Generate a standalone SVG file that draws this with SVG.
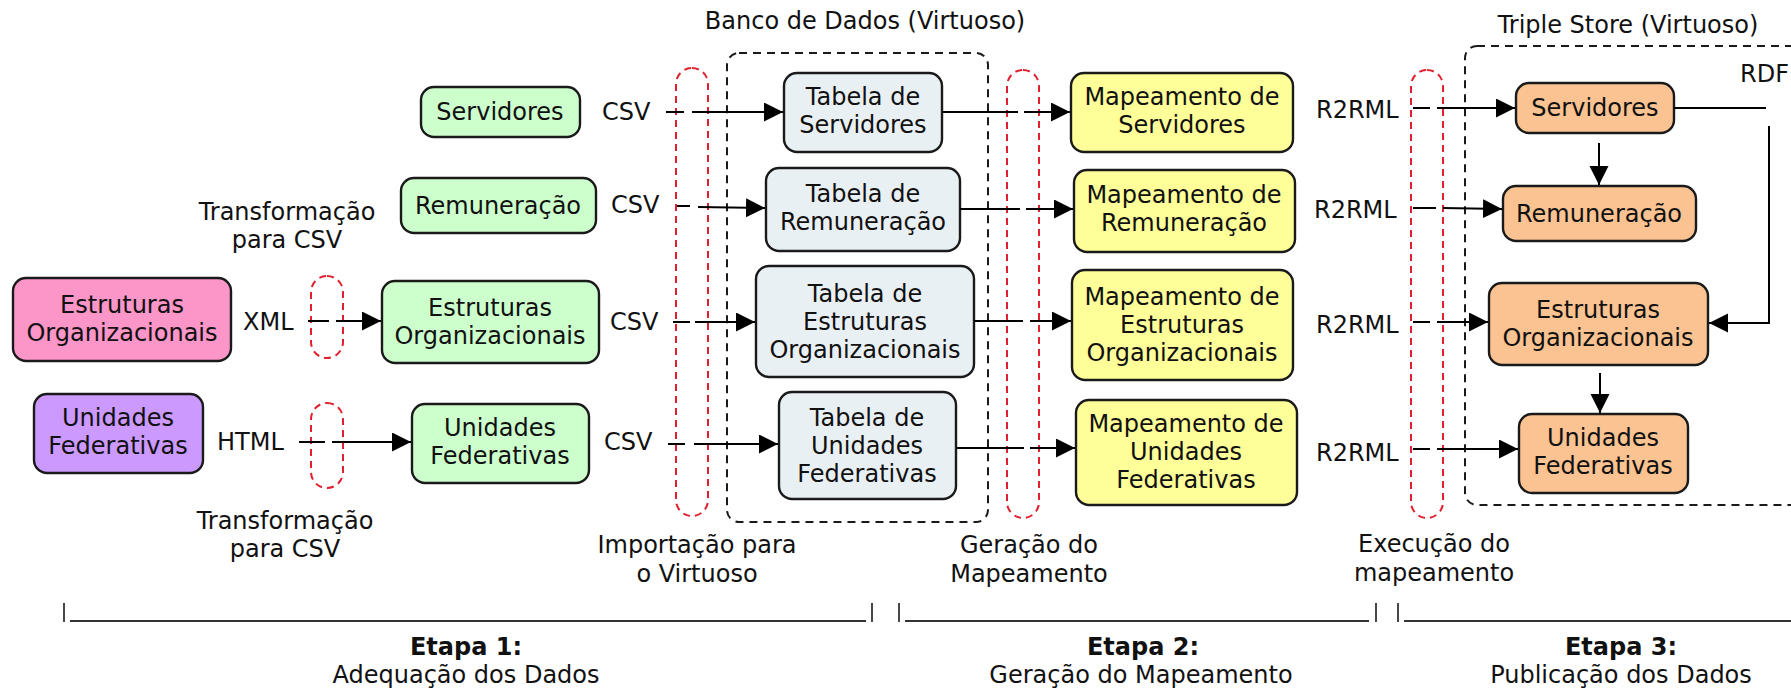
<svg xmlns="http://www.w3.org/2000/svg" width="1791" height="691" viewBox="0 0 1791 691">
<defs>
<marker id="ah" markerUnits="userSpaceOnUse" markerWidth="20" markerHeight="20" refX="19" refY="9.5" orient="auto">
<path d="M0,0 L19,9.5 L0,19 Z" fill="#000"/>
</marker>
<style>
text{font-family:"DejaVu Sans",Verdana,sans-serif;font-size:24px;fill:#111;text-anchor:middle}
.b{font-weight:bold}
.s{text-anchor:start}
.box{stroke:#1a1a1a;stroke-width:2.4}
.green{fill:#ccffcc}
.pink{fill:#fc95c8}
.purple{fill:#cc99ff}
.tab{fill:#e9f0f4}
.yel{fill:#ffff99}
.org{fill:#fac391}
.pill{fill:none;stroke:#e0202e;stroke-width:2;stroke-dasharray:7,5}
.grp{fill:none;stroke:#1a1a1a;stroke-width:2;stroke-dasharray:8,6}
.ln{fill:none;stroke:#000;stroke-width:2}
.arr{fill:none;stroke:#000;stroke-width:2;marker-end:url(#ah)}
.br{fill:none;stroke:#333;stroke-width:1.8}
</style>
</defs>

<!-- containers -->
<g id="group-banco">
<rect class="grp" x="727" y="53" width="261" height="469" rx="12"/>
<text x="865" y="29">Banco de Dados (Virtuoso)</text>
</g>
<g id="group-triplestore">
<rect class="grp" x="1465" y="46" width="360" height="459" rx="12"/>
<text x="1628" y="33">Triple Store (Virtuoso)</text>
</g>

<!-- red process pills -->
<g id="pill-transf1"><rect class="pill" x="311" y="276" width="32" height="82" rx="16"/></g>
<g id="pill-transf2"><rect class="pill" x="311" y="403" width="32" height="85" rx="16"/></g>
<g id="pill-import"><rect class="pill" x="676" y="68" width="32" height="448" rx="16"/></g>
<g id="pill-geracao"><rect class="pill" x="1007" y="70" width="32" height="448" rx="16"/></g>
<g id="pill-execucao"><rect class="pill" x="1411" y="70" width="32" height="448" rx="16"/></g>

<!-- source nodes -->
<g id="src-estruturas">
<rect class="box pink" x="13" y="278" width="218" height="83" rx="13"/>
<text x="122" y="313">Estruturas</text><text x="122" y="341">Organizacionais</text>
</g>
<g id="src-unidades">
<rect class="box purple" x="34" y="394" width="169" height="79" rx="13"/>
<text x="118" y="426">Unidades</text><text x="118" y="454">Federativas</text>
</g>

<!-- CSV nodes -->
<g id="csv-servidores">
<rect class="box green" x="421" y="87" width="159" height="50" rx="13"/>
<text x="500" y="120">Servidores</text>
</g>
<g id="csv-remuneracao">
<rect class="box green" x="401" y="178" width="195" height="55" rx="13"/>
<text x="498" y="214">Remuneração</text>
</g>
<g id="csv-estruturas">
<rect class="box green" x="382" y="281" width="217" height="82" rx="13"/>
<text x="490" y="316">Estruturas</text><text x="490" y="344">Organizacionais</text>
</g>
<g id="csv-unidades">
<rect class="box green" x="412" y="404" width="177" height="79" rx="13"/>
<text x="500" y="436">Unidades</text><text x="500" y="464">Federativas</text>
</g>

<!-- table nodes -->
<g id="tab-servidores">
<rect class="box tab" x="784" y="73" width="158" height="79" rx="13"/>
<text x="863" y="105">Tabela de</text><text x="863" y="133">Servidores</text>
</g>
<g id="tab-remuneracao">
<rect class="box tab" x="766" y="168" width="194" height="83" rx="13"/>
<text x="863" y="202">Tabela de</text><text x="863" y="230">Remuneração</text>
</g>
<g id="tab-estruturas">
<rect class="box tab" x="756" y="266" width="218" height="111" rx="13"/>
<text x="865" y="302">Tabela de</text><text x="865" y="330">Estruturas</text><text x="865" y="358">Organizacionais</text>
</g>
<g id="tab-unidades">
<rect class="box tab" x="779" y="392" width="177" height="107" rx="13"/>
<text x="867" y="426">Tabela de</text><text x="867" y="454">Unidades</text><text x="867" y="482">Federativas</text>
</g>

<!-- mapping nodes -->
<g id="map-servidores">
<rect class="box yel" x="1071" y="73" width="222" height="79" rx="13"/>
<text x="1182" y="105">Mapeamento de</text><text x="1182" y="133">Servidores</text>
</g>
<g id="map-remuneracao">
<rect class="box yel" x="1074" y="170" width="221" height="82" rx="13"/>
<text x="1184" y="203">Mapeamento de</text><text x="1184" y="231">Remuneração</text>
</g>
<g id="map-estruturas">
<rect class="box yel" x="1072" y="270" width="221" height="110" rx="13"/>
<text x="1182" y="305">Mapeamento de</text><text x="1182" y="333">Estruturas</text><text x="1182" y="361">Organizacionais</text>
</g>
<g id="map-unidades">
<rect class="box yel" x="1076" y="400" width="221" height="105" rx="13"/>
<text x="1186" y="432">Mapeamento de</text><text x="1186" y="460">Unidades</text><text x="1186" y="488">Federativas</text>
</g>

<!-- RDF nodes -->
<g id="rdf-servidores">
<rect class="box org" x="1516" y="83" width="158" height="50" rx="13"/>
<text x="1595" y="116">Servidores</text>
</g>
<g id="rdf-remuneracao">
<rect class="box org" x="1503" y="186" width="193" height="55" rx="13"/>
<text x="1599" y="222">Remuneração</text>
</g>
<g id="rdf-estruturas">
<rect class="box org" x="1489" y="283" width="219" height="82" rx="13"/>
<text x="1598" y="318">Estruturas</text><text x="1598" y="346">Organizacionais</text>
</g>
<g id="rdf-unidades">
<rect class="box org" x="1519" y="414" width="169" height="79" rx="13"/>
<text x="1603" y="446">Unidades</text><text x="1603" y="474">Federativas</text>
</g>

<!-- connectors -->
<g id="connectors">
<!-- XML / HTML -->
<line class="ln" x1="308" y1="321" x2="329" y2="321"/>
<line class="arr" x1="336" y1="321" x2="381" y2="321"/>
<line class="ln" x1="299" y1="442" x2="325" y2="442"/>
<line class="arr" x1="332" y1="442" x2="411" y2="442"/>
<!-- CSV import -->
<line class="ln" x1="666" y1="112" x2="684" y2="112"/>
<line class="arr" x1="692" y1="112" x2="783" y2="112"/>
<line class="ln" x1="677" y1="206" x2="690" y2="206"/>
<line class="arr" x1="698" y1="207" x2="765" y2="208"/>
<line class="ln" x1="673" y1="322" x2="690" y2="322"/>
<line class="arr" x1="695" y1="322" x2="755" y2="322"/>
<line class="ln" x1="668" y1="444" x2="685" y2="444"/>
<line class="arr" x1="694" y1="444" x2="778" y2="444"/>
<!-- mapping generation -->
<line class="ln" x1="942" y1="112" x2="1018" y2="112"/>
<line class="arr" x1="1024" y1="112" x2="1070" y2="112"/>
<line class="ln" x1="960" y1="209" x2="1020" y2="209"/>
<line class="arr" x1="1026" y1="209" x2="1073" y2="209"/>
<line class="ln" x1="974" y1="321" x2="1023" y2="321"/>
<line class="arr" x1="1030" y1="321" x2="1071" y2="321"/>
<line class="ln" x1="956" y1="448" x2="1024" y2="448"/>
<line class="arr" x1="1030" y1="448" x2="1075" y2="448"/>
<!-- R2RML execution -->
<line class="ln" x1="1413" y1="108" x2="1430" y2="108"/>
<line class="arr" x1="1437" y1="108" x2="1515" y2="108"/>
<line class="ln" x1="1413" y1="208" x2="1436" y2="208"/>
<line class="arr" x1="1443" y1="208" x2="1502" y2="209"/>
<line class="ln" x1="1413" y1="322" x2="1430" y2="322"/>
<line class="arr" x1="1437" y1="322" x2="1488" y2="322"/>
<line class="ln" x1="1413" y1="449" x2="1430" y2="449"/>
<line class="arr" x1="1437" y1="449" x2="1518" y2="449"/>
<!-- within triple store -->
<line class="arr" x1="1599" y1="143" x2="1599" y2="185"/>
<line class="arr" x1="1600" y1="373" x2="1600" y2="413"/>
<line class="ln" x1="1674" y1="108" x2="1766" y2="108"/>
<polyline class="arr" points="1769,126 1769,323 1709,323"/>
</g>

<!-- labels -->
<g id="labels">
<text class="s" x="243" y="330">XML</text>
<text class="s" x="217" y="450">HTML</text>
<text class="s" x="602" y="120">CSV</text>
<text class="s" x="611" y="213">CSV</text>
<text class="s" x="610" y="330">CSV</text>
<text class="s" x="604" y="450">CSV</text>
<text class="s" x="1316" y="118">R2RML</text>
<text class="s" x="1314" y="218">R2RML</text>
<text class="s" x="1316" y="333">R2RML</text>
<text class="s" x="1316" y="461">R2RML</text>
<text class="s" x="1740" y="82">RDF</text>
<text x="287" y="220">Transformação</text><text x="287" y="248">para CSV</text>
<text x="285" y="529">Transformação</text><text x="285" y="557">para CSV</text>
<text x="697" y="553">Importação para</text><text x="697" y="582">o Virtuoso</text>
<text x="1029" y="553">Geração do</text><text x="1029" y="582">Mapeamento</text>
<text x="1434" y="552">Execução do</text><text x="1434" y="581">mapeamento</text>
</g>

<!-- stage brackets -->
<g id="stages">
<line class="br" x1="64" y1="603" x2="64" y2="622"/>
<line class="br" x1="70" y1="621" x2="866" y2="621"/>
<line class="br" x1="872" y1="603" x2="872" y2="622"/>
<line class="br" x1="899" y1="603" x2="899" y2="622"/>
<line class="br" x1="905" y1="621" x2="1369" y2="621"/>
<line class="br" x1="1376" y1="603" x2="1376" y2="622"/>
<line class="br" x1="1398" y1="603" x2="1398" y2="622"/>
<line class="br" x1="1404" y1="621" x2="1791" y2="621"/>
<text class="b" x="466" y="655">Etapa 1:</text><text x="466" y="683">Adequação dos Dados</text>
<text class="b" x="1143" y="655">Etapa 2:</text><text x="1141" y="683">Geração do Mapeamento</text>
<text class="b" x="1621" y="655">Etapa 3:</text><text x="1621" y="683">Publicação dos Dados</text>
</g>
</svg>
